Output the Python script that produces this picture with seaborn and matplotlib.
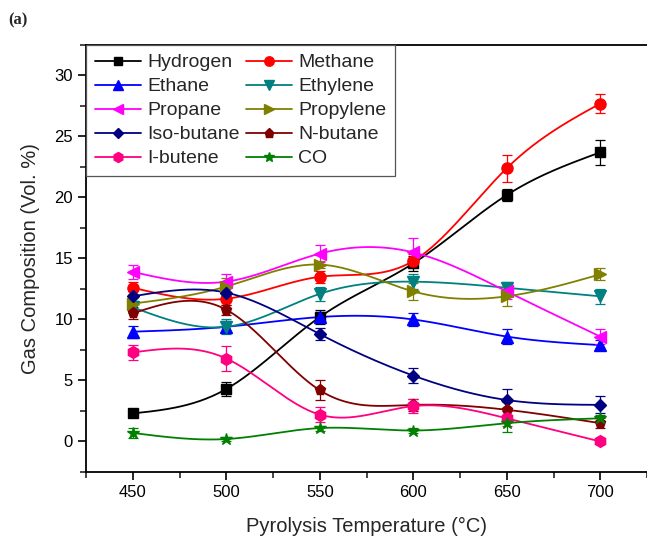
import numpy as np
import pandas as pd
import matplotlib
matplotlib.use("Agg")
import matplotlib.pyplot as plt
import seaborn as sns
from matplotlib.lines import Line2D
from matplotlib.ticker import MultipleLocator

temps = [450, 500, 550, 600, 650, 700]

names = ["Hydrogen", "Methane", "Ethane", "Ethylene", "Propane", "Propylene",
         "Iso-butane", "N-butane", "I-butene", "CO"]

hydrogen = [2.3, 4.3, 10.2, 14.6, 20.2, 23.7]
methane = [12.6, 11.7, 13.5, 14.8, 22.4, 27.7]
ethane = [9.0, 9.4, 10.2, 10.0, 8.6, 7.9]
ethylene = [11.0, 9.4, 12.1, 13.1, 12.6, 11.9]
propane = [13.9, 13.1, 15.4, 15.5, 12.3, 8.6]
propylene = [11.3, 12.7, 14.5, 12.3, 11.9, 13.7]
isobutane = [11.9, 12.2, 8.8, 5.4, 3.4, 3.0]
nbutane = [10.5, 10.8, 4.2, 3.0, 2.6, 1.5]
ibutene = [7.3, 6.8, 2.2, 2.9, 1.9, 0.0]
co = [0.7, 0.2, 1.1, 0.9, 1.5, 1.9]

hydrogen_err = [0.3, 0.6, 0.6, 0.6, 0.5, 1.0]
methane_err = [0.5, 0.5, 0.5, 0.6, 1.1, 0.8]
ethane_err = [0.5, 0.5, 0.4, 0.5, 0.6, 0.4]
ethylene_err = [0.5, 0.6, 0.6, 0.6, 0.5, 0.6]
propane_err = [0.6, 0.6, 0.7, 1.2, 0.6, 0.6]
propylene_err = [0.5, 0.7, 0.3, 0.7, 0.8, 0.5]
isobutane_err = [0.4, 0.5, 0.5, 0.6, 0.9, 0.7]
nbutane_err = [0.5, 0.4, 0.8, 0.5, 0.6, 0.4]
ibutene_err = [0.6, 1.0, 0.6, 0.6, 0.6, 0.1]
co_err = [0.4, 0.2, 0.2, 0.2, 0.7, 0.3]

values = [hydrogen, methane, ethane, ethylene, propane, propylene,
          isobutane, nbutane, ibutene, co]
errors = [hydrogen_err, methane_err, ethane_err, ethylene_err, propane_err,
          propylene_err, isobutane_err, nbutane_err, ibutene_err, co_err]

colors = ["#000000", "#FF0000", "#0000FF", "#008080", "#FF00FF", "#808000",
          "#000080", "#800000", "#FF0080", "#008000"]
markers = ["s", "o", "^", "v", "<", ">", "D", "p", "h", "*"]
msizes = [7.5, 8, 8, 8, 8, 8, 6.5, 8, 8.5, 9]


def natural_spline(x, y, n=300):
    x = np.asarray(x, float)
    y = np.asarray(y, float)
    k = len(x)
    h = np.diff(x)
    A = np.zeros((k, k))
    b = np.zeros(k)
    A[0, 0] = 1
    A[-1, -1] = 1
    for i in range(1, k - 1):
        A[i, i - 1] = h[i - 1]
        A[i, i] = 2 * (h[i - 1] + h[i])
        A[i, i + 1] = h[i]
        b[i] = 6 * ((y[i + 1] - y[i]) / h[i] - (y[i] - y[i - 1]) / h[i - 1])
    M = np.linalg.solve(A, b)
    xs = np.linspace(x[0], x[-1], n)
    idx = np.clip(np.searchsorted(x, xs) - 1, 0, k - 2)
    x0, x1 = x[idx], x[idx + 1]
    hh = x1 - x0
    t0, t1 = x1 - xs, xs - x0
    ys = (M[idx] * t0 ** 3 / (6 * hh) + M[idx + 1] * t1 ** 3 / (6 * hh)
          + (y[idx] / hh - M[idx] * hh / 6) * t0
          + (y[idx + 1] / hh - M[idx + 1] * hh / 6) * t1)
    return xs, ys


sns.set_style("ticks")
plt.rcParams["font.family"] = ["Liberation Sans", "DejaVu Sans"]

fig = plt.figure(figsize=(6.47, 5.38), dpi=100)
ax = fig.add_axes([0.133, 0.1227, 0.867, 0.7937])

handles = []
for name, vals, errs, c, m, ms in zip(names, values, errors, colors, markers, msizes):
    xs, ys = natural_spline(temps, vals)
    curve = pd.DataFrame({"T": xs, "v": ys})
    sns.lineplot(data=curve, x="T", y="v", ax=ax, color=c, lw=1.3, sort=False)
    ax.errorbar(temps, vals, yerr=errs, fmt=m, color=c, ms=ms, mec=c, mfc=c,
                elinewidth=0.9, capsize=3.5, capthick=0.9, zorder=3)
    handles.append(Line2D([], [], color=c, lw=1.3, marker=m, ms=ms * 0.85,
                          mfc=c, mec=c, label=name))

# legend filled row-wise: reorder into column-major order for 2 columns
order = list(range(0, 10, 2)) + list(range(1, 10, 2))
handles = [handles[i] for i in order]

ax.set_xlim(425, 725)
ax.set_ylim(-2.5, 32.5)
ax.xaxis.set_major_locator(MultipleLocator(50))
ax.xaxis.set_minor_locator(MultipleLocator(25))
ax.yaxis.set_major_locator(MultipleLocator(5))
ax.yaxis.set_minor_locator(MultipleLocator(2.5))
ax.tick_params(axis="both", which="major", direction="out", length=6, width=1.2,
               labelsize=12, colors="black")
ax.tick_params(axis="both", which="minor", direction="out", length=4, width=1.2)
for s in ["left", "bottom", "top"]:
    ax.spines[s].set_linewidth(1.3)
    ax.spines[s].set_color("black")
ax.spines["right"].set_visible(False)

ax.set_xlabel("Pyrolysis Temperature (\u00b0C)", fontsize=14.5, labelpad=12)
ax.set_ylabel("Gas Composition (Vol. %)", fontsize=14.5, labelpad=10)

leg = ax.legend(handles=handles, ncol=2, loc="upper left", bbox_to_anchor=(0, 1),
                borderaxespad=0, fontsize=14, frameon=True, fancybox=False,
                edgecolor="#555555", framealpha=1, handlelength=2.4,
                handletextpad=0.3, columnspacing=0.3, labelspacing=0.33,
                borderpad=0.45)
leg.get_frame().set_linewidth(0.9)

fig.text(0.012, 0.955, "(a)", fontsize=12, fontweight="bold",
         family=["Liberation Serif", "DejaVu Serif"])

fig.savefig("out.png", dpi=100)
